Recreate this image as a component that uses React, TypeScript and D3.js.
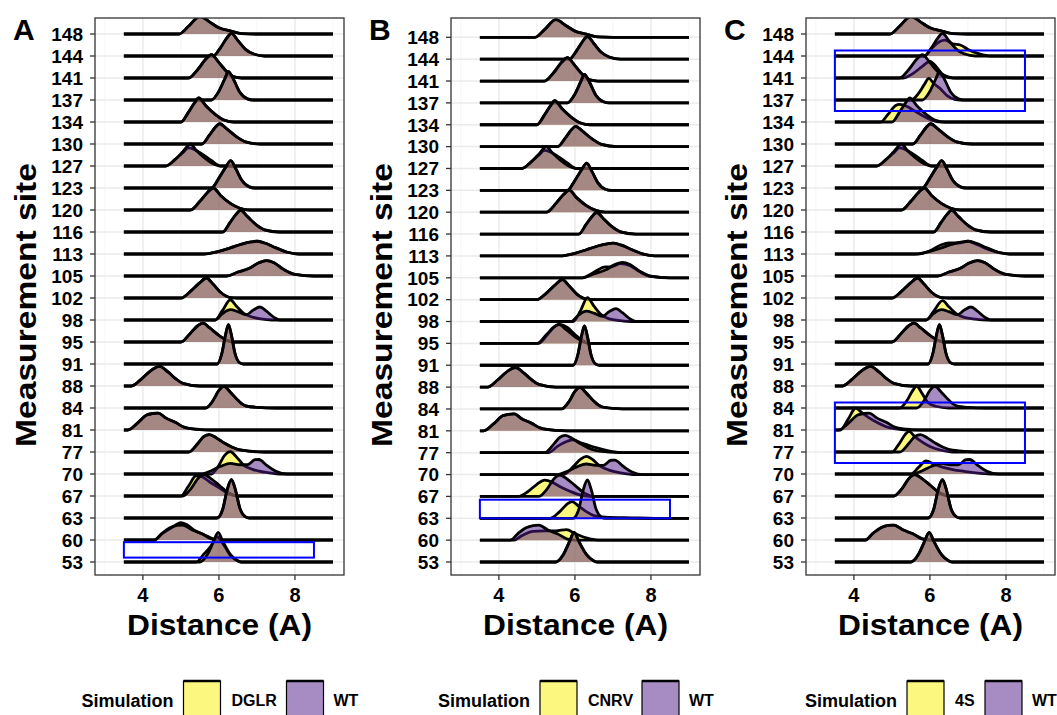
import React from 'react';
import * as d3 from 'd3';

// Ridgeline comparison: three panels (mutant vs WT) of distance densities per site.

type Pt = [number, number];

const WIDTH = 1057;
const HEIGHT = 715;
const FONT = '"Liberation Sans", Arial, Helvetica, sans-serif';

// sites, bottom row first
const SITES = ['53', '60', '63', '67', '70', '77', '81', '84', '88', '91', '95', '98', '102',
  '105', '113', '116', '120', '123', '127', '130', '134', '137', '141', '144', '148'];

const X_TICKS = [4, 6, 8];
const X_MINOR = [3, 5, 7, 9];
const X_SUPPORT: [number, number] = [3.5, 9];

// density outlines: [distance, height in row units]
const WT_RIDGES: Pt[][] = [
  [[5.5, 0], [5.7, 0.35], [5.85, 0.9], [5.98, 1.35], [6.1, 0.95], [6.3, 0.35], [6.5, 0.05], [6.6, 0]],
  [[4.3, 0], [4.5, 0.3], [4.7, 0.55], [4.9, 0.66], [5.05, 0.68], [5.3, 0.45], [5.55, 0.28], [5.8, 0.05], [6.0, 0]],
  [[5.95, 0], [6.1, 0.4], [6.22, 1.3], [6.33, 1.74], [6.43, 1.3], [6.55, 0.45], [6.7, 0.05], [6.8, 0]],
  [[5.05, 0], [5.25, 0.3], [5.45, 0.8], [5.6, 0.97], [5.8, 0.78], [6.0, 0.5], [6.25, 0.15], [6.5, 0]],
  [[5.55, 0], [5.8, 0.15], [6.05, 0.35], [6.3, 0.48], [6.55, 0.42], [6.75, 0.42], [6.95, 0.65], [7.05, 0.66], [7.25, 0.4], [7.5, 0.12], [7.8, 0]],
  [[5.2, 0], [5.45, 0.4], [5.6, 0.7], [5.75, 0.79], [5.95, 0.62], [6.15, 0.4], [6.35, 0.22], [6.6, 0.08], [7.2, 0]],
  [[3.6, 0], [3.85, 0.3], [4.1, 0.68], [4.25, 0.75], [4.4, 0.77], [4.6, 0.55], [4.85, 0.35], [5.1, 0.12], [5.5, 0.02], [5.8, 0]],
  [[5.65, 0], [5.85, 0.35], [6.0, 0.8], [6.13, 0.98], [6.3, 0.72], [6.5, 0.35], [6.7, 0.1], [7.0, 0.03], [7.5, 0]],
  [[3.7, 0], [3.95, 0.3], [4.25, 0.75], [4.44, 0.89], [4.65, 0.65], [4.85, 0.35], [5.05, 0.12], [5.5, 0]],
  [[5.95, 0], [6.08, 0.5], [6.17, 1.3], [6.25, 1.79], [6.33, 1.3], [6.42, 0.5], [6.55, 0.05], [6.65, 0]],
  [[5.0, 0], [5.25, 0.4], [5.45, 0.75], [5.58, 0.86], [5.75, 0.65], [6.0, 0.3], [6.25, 0.05], [6.4, 0]],
  [[5.9, 0], [6.1, 0.3], [6.3, 0.47], [6.5, 0.38], [6.72, 0.24], [6.9, 0.45], [7.08, 0.59], [7.25, 0.4], [7.45, 0.12], [7.6, 0]],
  [[5.0, 0], [5.25, 0.3], [5.5, 0.7], [5.67, 0.91], [5.85, 0.62], [6.05, 0.25], [6.3, 0.02], [6.5, 0]],
  [[6.2, 0], [6.5, 0.18], [6.8, 0.35], [7.05, 0.6], [7.25, 0.7], [7.45, 0.6], [7.7, 0.3], [8.0, 0.07], [8.5, 0]],
  [[5.6, 0], [6.0, 0.12], [6.3, 0.28], [6.6, 0.45], [6.85, 0.55], [7.0, 0.58], [7.2, 0.5], [7.5, 0.28], [7.8, 0.08], [8.1, 0]],
  [[6.1, 0], [6.3, 0.45], [6.45, 0.8], [6.57, 0.98], [6.75, 0.7], [7.0, 0.3], [7.2, 0.1], [7.6, 0]],
  [[5.25, 0], [5.5, 0.4], [5.7, 0.8], [5.85, 1.0], [6.05, 0.65], [6.3, 0.3], [6.55, 0.08], [6.8, 0]],
  [[5.8, 0], [6.0, 0.45], [6.18, 0.95], [6.31, 1.24], [6.45, 0.85], [6.6, 0.35], [6.8, 0.05], [6.95, 0]],
  [[4.6, 0], [4.85, 0.3], [5.05, 0.65], [5.25, 1.0], [5.4, 0.72], [5.6, 0.4], [5.8, 0.15], [6.05, 0]],
  [[5.55, 0], [5.75, 0.4], [5.9, 0.75], [6.02, 0.92], [6.2, 0.7], [6.45, 0.35], [6.7, 0.1], [7.1, 0]],
  [[5.0, 0], [5.2, 0.45], [5.35, 0.85], [5.47, 1.09], [5.65, 0.75], [5.9, 0.35], [6.15, 0.08], [6.4, 0]],
  [[5.8, 0], [6.0, 0.4], [6.15, 0.95], [6.25, 1.29], [6.38, 0.95], [6.55, 0.35], [6.75, 0.05], [6.9, 0]],
  [[5.2, 0], [5.45, 0.4], [5.65, 0.85], [5.8, 1.06], [6.0, 0.7], [6.2, 0.3], [6.4, 0.05], [6.6, 0]],
  [[5.85, 0], [6.05, 0.4], [6.2, 0.8], [6.33, 1.03], [6.5, 0.7], [6.7, 0.3], [6.9, 0.1], [7.2, 0]],
  [[4.95, 0], [5.2, 0.35], [5.5, 0.8], [5.75, 0.55], [6.0, 0.28], [6.3, 0.14], [6.6, 0.02], [7.0, 0]],
];

// mutant outlines; null = indistinguishable from WT in the picture
const DGLR_RIDGES: (Pt[] | null)[] = [
  [[5.4, 0], [5.6, 0.35], [5.8, 0.75], [5.95, 1.15], [6.1, 0.85], [6.3, 0.3], [6.5, 0.05], [6.6, 0]],
  [[4.3, 0], [4.5, 0.28], [4.75, 0.55], [5.0, 0.79], [5.15, 0.7], [5.35, 0.45], [5.6, 0.25], [5.85, 0.05], [6.0, 0]],
  null,
  [[5.0, 0], [5.2, 0.45], [5.4, 0.92], [5.55, 0.88], [5.75, 0.65], [6.0, 0.38], [6.25, 0.1], [6.5, 0]],
  [[5.8, 0], [6.0, 0.4], [6.15, 0.85], [6.3, 1.02], [6.45, 0.8], [6.65, 0.4], [6.9, 0.2], [7.2, 0.08], [7.6, 0]],
  null, null, null, null, null, null,
  [[5.9, 0], [6.1, 0.45], [6.3, 0.92], [6.45, 0.65], [6.65, 0.3], [6.85, 0.15], [7.1, 0.05], [7.4, 0]],
  null, null, null, null, null, null,
  [[4.6, 0], [4.85, 0.3], [5.05, 0.6], [5.2, 0.82], [5.35, 0.75], [5.55, 0.55], [5.8, 0.25], [6.05, 0]],
  null, null, null, null, null, null,
];

const CNRV_RIDGES: (Pt[] | null)[] = [
  null,
  [[4.4, 0], [4.6, 0.2], [4.9, 0.4], [5.2, 0.42], [5.5, 0.42], [5.78, 0.48], [6.0, 0.3], [6.3, 0.1], [6.6, 0]],
  [[5.35, 0], [5.6, 0.3], [5.8, 0.65], [5.92, 0.76], [6.1, 0.55], [6.3, 0.3], [6.5, 0.12], [6.8, 0.05], [7.5, 0.02], [8.1, 0]],
  [[4.5, 0], [4.75, 0.2], [5.0, 0.55], [5.2, 0.74], [5.4, 0.65], [5.6, 0.45], [5.85, 0.25], [6.1, 0.08], [6.4, 0]],
  [[5.7, 0], [5.95, 0.35], [6.15, 0.7], [6.3, 0.83], [6.45, 0.7], [6.65, 0.4], [6.9, 0.2], [7.2, 0.08], [7.6, 0]],
  [[5.3, 0], [5.55, 0.3], [5.8, 0.52], [5.95, 0.58], [6.2, 0.42], [6.45, 0.28], [6.7, 0.16], [6.95, 0.06], [7.3, 0]],
  null, null, null, null,
  [[5.05, 0], [5.3, 0.45], [5.5, 0.8], [5.62, 0.85], [5.8, 0.72], [6.0, 0.4], [6.25, 0.08], [6.4, 0]],
  [[5.95, 0], [6.15, 0.5], [6.33, 1.09], [6.5, 0.7], [6.7, 0.3], [6.9, 0.12], [7.2, 0.04], [7.5, 0]],
  null,
  [[6.2, 0], [6.5, 0.25], [6.8, 0.5], [6.95, 0.5], [7.2, 0.65], [7.45, 0.55], [7.7, 0.28], [8.0, 0.06], [8.5, 0]],
  null, null, null, null,
  [[4.6, 0], [4.85, 0.3], [5.05, 0.6], [5.2, 0.82], [5.35, 0.75], [5.55, 0.55], [5.8, 0.25], [6.05, 0]],
  null, null, null, null, null, null,
];

const S4_RIDGES: (Pt[] | null)[] = [
  null, null, null, null,
  [[5.5, 0], [5.7, 0.3], [5.9, 0.6], [6.1, 0.45], [6.35, 0.3], [6.6, 0.2], [6.9, 0.12], [7.2, 0.05], [7.6, 0]],
  [[5.0, 0], [5.2, 0.4], [5.35, 0.8], [5.45, 0.94], [5.6, 0.7], [5.8, 0.45], [6.0, 0.25], [6.3, 0.08], [6.6, 0]],
  [[3.65, 0], [3.85, 0.5], [4.05, 1.0], [4.2, 0.8], [4.4, 0.55], [4.6, 0.35], [4.85, 0.15], [5.1, 0.05], [5.4, 0]],
  [[5.2, 0], [5.4, 0.35], [5.55, 0.8], [5.65, 1.0], [5.78, 0.7], [5.95, 0.25], [6.15, 0.08], [6.5, 0]],
  null, null, null,
  [[5.9, 0], [6.1, 0.4], [6.33, 0.88], [6.5, 0.6], [6.7, 0.28], [6.9, 0.12], [7.2, 0.04], [7.5, 0]],
  null, null,
  [[5.7, 0], [6.0, 0.15], [6.3, 0.42], [6.5, 0.5], [6.75, 0.5], [7.0, 0.58], [7.25, 0.42], [7.55, 0.2], [7.85, 0.05], [8.1, 0]],
  null, null, null,
  [[4.6, 0], [4.85, 0.3], [5.05, 0.6], [5.2, 0.82], [5.35, 0.75], [5.55, 0.55], [5.8, 0.25], [6.05, 0]],
  null,
  [[4.7, 0], [4.9, 0.35], [5.1, 0.75], [5.2, 0.8], [5.4, 0.7], [5.55, 0.55], [5.8, 0.3], [6.05, 0.08], [6.3, 0]],
  [[5.5, 0], [5.7, 0.3], [5.85, 0.7], [5.97, 0.98], [6.1, 0.75], [6.25, 0.55], [6.45, 0.2], [6.65, 0.03], [6.8, 0]],
  [[5.3, 0], [5.55, 0.2], [5.8, 0.53], [6.0, 0.76], [6.15, 0.55], [6.3, 0.22], [6.5, 0.04], [6.7, 0]],
  [[5.85, 0], [6.05, 0.35], [6.25, 0.65], [6.4, 0.72], [6.6, 0.55], [6.8, 0.5], [7.0, 0.3], [7.3, 0.1], [7.6, 0]],
  null,
];

// highlight boxes: [xmin, xmax, ymin, ymax] in (distance, site index from 1)
const BOXES_A = [[3.5, 8.5, 1.2, 1.9]];
const BOXES_B = [[3.5, 8.5, 3.0, 3.85]];
const BOXES_C = [[3.5, 8.5, 21.5, 24.25], [3.5, 8.5, 5.5, 8.25]];

const PANELS = [
  { letter: 'A', mutant: 'DGLR', ridges: DGLR_RIDGES, boxes: BOXES_A, left: 95, topRow: 34, labelW: 45 },
  { letter: 'B', mutant: 'CNRV', ridges: CNRV_RIDGES, boxes: BOXES_B, left: 451, topRow: 37.3, labelW: 44 },
  { letter: 'C', mutant: '4S', ridges: S4_RIDGES, boxes: BOXES_C, left: 806, topRow: 34, labelW: 20 },
];

const PANEL_W = 249;
const PANEL_TOP = 18;
const PANEL_BOTTOM = 575;
const BOTTOM_ROW = 562;
const ROW_PX = 22;

const YELLOW = '#F7EF00';
const PURPLE = '#4F1A8A';
const GRID = '#EBEBEB';
const BORDER = '#333333';
const RIDGE_STROKE = 2.8;

function Panel({ p, idx }: { p: (typeof PANELS)[number]; idx: number }) {
  const x = d3.scaleLinear().domain([2.74, 9.29]).range([p.left, p.left + PANEL_W]);
  const y = d3.scaleLinear().domain([1, SITES.length]).range([BOTTOM_ROW, p.topRow]);
  const h = d3.scaleLinear().domain([0, 1]).range([0, ROW_PX]);
  const clipId = `clip-${idx}`;

  const withSupport = (pts: Pt[]): Pt[] => [[X_SUPPORT[0], 0], ...pts, [X_SUPPORT[1], 0]];

  const ridgeArea = (base: number) =>
    d3.area<Pt>().x((d) => x(d[0])).y0(base).y1((d) => base - h(d[1])).curve(d3.curveMonotoneX);
  const ridgeLine = (base: number) =>
    d3.line<Pt>().x((d) => x(d[0])).y((d) => base - h(d[1])).curve(d3.curveMonotoneX);

  const order = d3.range(SITES.length).reverse(); // top ridges first
  const cx = p.left + PANEL_W / 2;

  // legend layout
  const legendTotal = 231 + p.labelW;
  const lx = cx - legendTotal / 2;
  const box1 = lx + 102;
  const lab1 = box1 + 48;
  const box2 = lab1 + p.labelW + 10;
  const lab2 = box2 + 47;

  return (
    <g>
      <defs>
        <clipPath id={clipId}>
          <rect x={p.left} y={PANEL_TOP} width={PANEL_W} height={PANEL_BOTTOM - PANEL_TOP} />
        </clipPath>
      </defs>
      <rect x={p.left} y={PANEL_TOP} width={PANEL_W} height={PANEL_BOTTOM - PANEL_TOP} fill="#fff" />
      {X_MINOR.map((t) => (
        <line key={`mn${t}`} x1={x(t)} x2={x(t)} y1={PANEL_TOP} y2={PANEL_BOTTOM} stroke="#F2F2F2" strokeWidth={0.8} />
      ))}
      {X_TICKS.map((t) => (
        <line key={`mj${t}`} x1={x(t)} x2={x(t)} y1={PANEL_TOP} y2={PANEL_BOTTOM} stroke={GRID} strokeWidth={1.5} />
      ))}
      {SITES.map((s, i) => (
        <line key={`hg${s}`} x1={p.left} x2={p.left + PANEL_W} y1={y(i + 1)} y2={y(i + 1)} stroke={GRID} strokeWidth={1.5} />
      ))}

      <g clipPath={`url(#${clipId})`}>
        {order.map((i) => {
          const base = y(i + 1);
          const wt = withSupport(WT_RIDGES[i]);
          const mut = withSupport(p.ridges[i] ?? WT_RIDGES[i]);
          return (
            <g key={`r${i}`}>
              <path d={ridgeArea(base)(mut) ?? ''} fill={YELLOW} fillOpacity={0.5} />
              <path d={ridgeLine(base)(mut) ?? ''} fill="none" stroke="#000" strokeWidth={RIDGE_STROKE} strokeLinejoin="round" />
              <path d={ridgeArea(base)(wt) ?? ''} fill={PURPLE} fillOpacity={0.5} />
              <path d={ridgeLine(base)(wt) ?? ''} fill="none" stroke="#000" strokeWidth={RIDGE_STROKE} strokeLinejoin="round" />
            </g>
          );
        })}
        {p.boxes.map((b, k) => (
          <rect
            key={`bx${k}`}
            x={x(b[0])}
            y={y(b[3])}
            width={x(b[1]) - x(b[0])}
            height={y(b[2]) - y(b[3])}
            fill="none"
            stroke="#0000FF"
            strokeWidth={2}
          />
        ))}
      </g>

      <rect x={p.left} y={PANEL_TOP} width={PANEL_W} height={PANEL_BOTTOM - PANEL_TOP} fill="none" stroke={BORDER} strokeWidth={1.3} />

      {/* y axis */}
      {SITES.map((s, i) => (
        <g key={`yt${s}`}>
          <line x1={p.left - 5} x2={p.left} y1={y(i + 1)} y2={y(i + 1)} stroke={BORDER} strokeWidth={1.3} />
          <text x={p.left - 12} y={y(i + 1)} dy="0.36em" textAnchor="end" fontSize={19} fontWeight="bold" fill="#000">
            {s}
          </text>
        </g>
      ))}
      {/* x axis */}
      {X_TICKS.map((t) => (
        <g key={`xt${t}`}>
          <line x1={x(t)} x2={x(t)} y1={PANEL_BOTTOM} y2={PANEL_BOTTOM + 5} stroke={BORDER} strokeWidth={1.3} />
          <text x={x(t)} y={602} textAnchor="middle" fontSize={20} fontWeight="bold" fill="#000">
            {t}
          </text>
        </g>
      ))}

      <text x={cx} y={635} textAnchor="middle" fontSize={30} fontWeight="bold" textLength={185} lengthAdjust="spacingAndGlyphs">
        Distance (A)
      </text>
      <text
        transform={`translate(${p.left - 59},305) rotate(-90)`}
        textAnchor="middle"
        fontSize={30}
        fontWeight="bold"
        textLength={284}
        lengthAdjust="spacingAndGlyphs"
      >
        Measurement site
      </text>
      <text x={p.left - 82} y={40} fontSize={30} fontWeight="bold">
        {p.letter}
      </text>

      {/* legend */}
      <text x={lx} y={707} fontSize={18} fontWeight="bold">Simulation</text>
      <rect x={box1} y={681} width={37} height={37} fill={YELLOW} fillOpacity={0.5} stroke="#000" strokeWidth={1.2} />
      <line x1={box1} x2={box1 + 37} y1={681} y2={681} stroke="#000" strokeWidth={2.5} />
      <text x={lab1} y={706} fontSize={16} fontWeight="bold">{p.mutant}</text>
      <rect x={box2} y={681} width={37} height={37} fill={PURPLE} fillOpacity={0.5} stroke="#000" strokeWidth={1.2} />
      <line x1={box2} x2={box2 + 37} y1={681} y2={681} stroke="#000" strokeWidth={2.5} />
      <text x={lab2} y={706} fontSize={16} fontWeight="bold">WT</text>
    </g>
  );
}

export default function App() {
  return (
    <svg
      width={WIDTH}
      height={HEIGHT}
      viewBox={`0 0 ${WIDTH} ${HEIGHT}`}
      style={{ position: 'absolute', left: 0, top: 0, background: '#fff', fontFamily: FONT }}
    >
      <rect width={WIDTH} height={HEIGHT} fill="#fff" />
      {PANELS.map((p, i) => (
        <Panel key={p.letter} p={p} idx={i} />
      ))}
    </svg>
  );
}
